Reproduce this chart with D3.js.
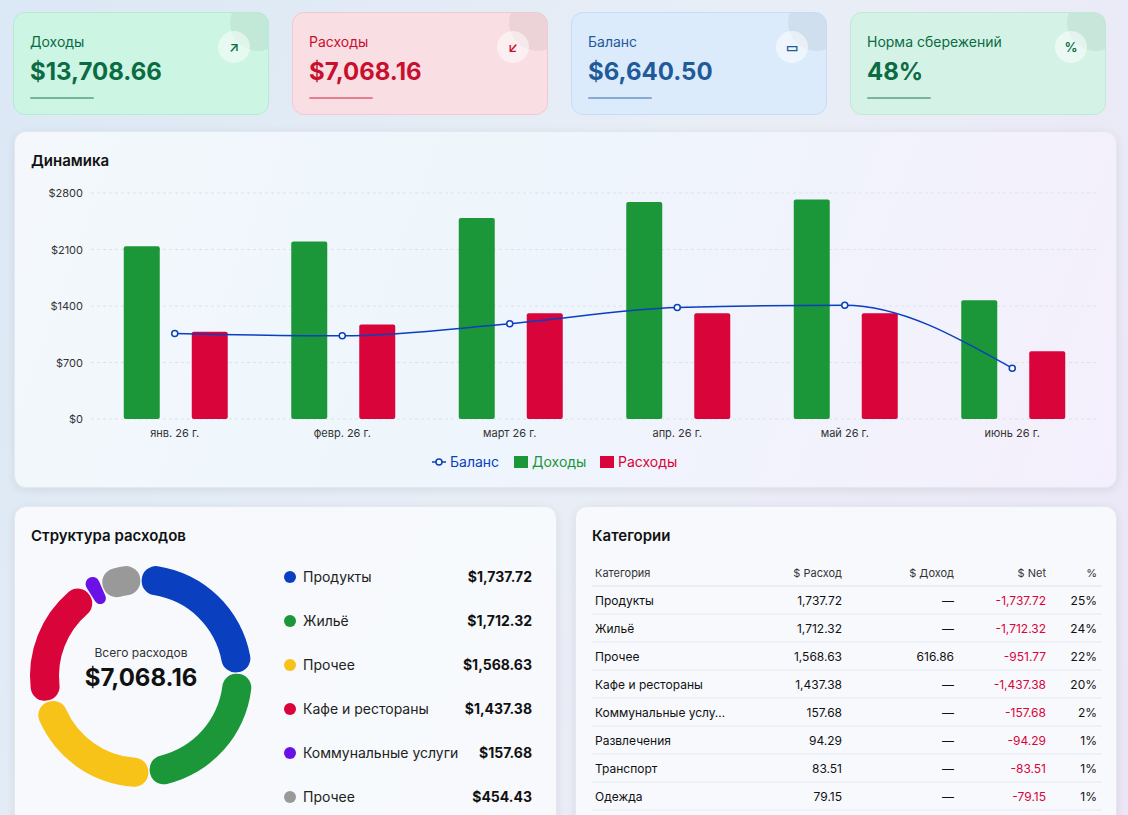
<!DOCTYPE html>
<html><head><meta charset="utf-8">
<script src="https://cdn.jsdelivr.net/npm/d3@7"></script>
<style>
body{margin:0;width:1128px;height:815px;overflow:hidden;font-family:Inter,"Noto Sans",sans-serif;
 background:linear-gradient(120deg,#dbe8f5 0%,#e9eef6 50%,#ece6f7 100%);}
.card{position:absolute;border-radius:12px;box-sizing:border-box;overflow:hidden}
.kpi{top:12px;height:103px;width:256px}
.kpi .t{position:absolute;left:16px;top:20px;font-size:14px}
.kpi .v{position:absolute;left:16px;top:44px;font-size:24px;font-weight:700}
.kpi .u{position:absolute;left:16px;top:84px;width:64px;height:2px;border-radius:1px}
.kpi .c{position:absolute;right:-18px;top:-18px;width:56px;height:56px;border-radius:50%;background:rgba(0,0,0,0.05)}
.kpi .i{position:absolute;right:18px;top:18px;width:32px;height:32px;border-radius:50%;background:rgba(255,255,255,0.5);text-align:center;line-height:32px;font-size:13px;font-weight:600}
.panel{background:rgba(248,250,253,0.95);box-shadow:0 2px 10px rgba(0,0,0,0.08);border:1px solid #e3e7ee}
.ptitle{position:absolute;left:16px;top:19px;font-size:15px;font-weight:600;color:#111}
</style></head><body>
<div id="root"></div>
<script>
var kpiTitles=["Доходы","Расходы","Баланс","Норма сбережений"];
var kpiValues=["$13,708.66","$7,068.16","$6,640.50","48%"];
var kpiIcons=["↗","↙","▭","%"];
var kpiBg=["#cdf5e3","#f9dfe4","#dcebfb","#d4f3e6"];
var kpiFg=["#0b6b43","#c8102e","#1f5a99","#0b6b43"];
var kpiBorder=["#b4ebd1","#f2c9d1","#c6dcf4","#bfe9d6"];

var months=["янв. 26 г.","февр. 26 г.","март 26 г.","апр. 26 г.","май 26 г.","июнь 26 г."];
var income=[2140,2200,2490,2690,2720,1470];
var expense=[1080,1170,1310,1310,1310,840];
var balance=[1060,1030,1180,1380,1410,630];
var yTicks=[0,700,1400,2100,2800];

var catNames=["Продукты","Жильё","Прочее","Кафе и рестораны","Коммунальные услуги","Прочее"];
var catValues=[1737.72,1712.32,1568.63,1437.38,157.68,454.43];
var catColors=["#0a3fbf","#1b9639","#f7c318","#d9043a","#6a12e6","#999999"];

var tblCats=["Продукты","Жильё","Прочее","Кафе и рестораны","Коммунальные услу…","Развлечения","Транспорт","Одежда"];
var tblExp=["1,737.72","1,712.32","1,568.63","1,437.38","157.68","94.29","83.51","79.15"];
var tblInc=["—","—","616.86","—","—","—","—","—"];
var tblNet=["-1,737.72","-1,712.32","-951.77","-1,437.38","-157.68","-94.29","-83.51","-79.15"];
var tblPct=["25%","24%","22%","20%","2%","1%","1%","1%"];

var root=d3.select("#root");
kpiTitles.forEach(function(t,i){
  var c=root.append("div").attr("class","card kpi")
    .style("left",(13+i*279)+"px").style("background",kpiBg[i]).style("border","1px solid "+kpiBorder[i]);
  c.append("div").attr("class","c");
  c.append("div").attr("class","t").style("color",kpiFg[i]).text(t);
  c.append("div").attr("class","v").style("color",kpiFg[i]).text(kpiValues[i]);
  c.append("div").attr("class","u").style("background",kpiFg[i]).style("opacity",0.45);
  c.append("div").attr("class","i").style("color",kpiFg[i]).text(kpiIcons[i]);
});

// Dynamics panel
var p1=root.append("div").attr("class","card panel").style("left","14px").style("top","131px")
  .style("width","1103px").style("height","357px")
  .style("background","linear-gradient(110deg,#f4f8fc,#eef6fc 40%,#f4effc)");
p1.append("div").attr("class","ptitle").text("Динамика");
var svg=p1.append("svg").attr("width",1103).attr("height",357).style("position","absolute").style("left",0).style("top",0);
var x=d3.scaleBand().domain(months).range([76,1081]);
var y=d3.scaleLinear().domain([0,2800]).range([287,61]);
var g=svg.append("g");
g.selectAll(".grid").data(yTicks).enter().append("line")
  .attr("x1",76).attr("x2",1081).attr("y1",d=>y(d)).attr("y2",d=>y(d))
  .attr("stroke","#dde2ea").attr("stroke-dasharray","3,3");
g.selectAll(".yl").data(yTicks).enter().append("text")
  .attr("x",68).attr("y",d=>y(d)+4).attr("text-anchor","end").attr("font-size",11).attr("fill","#333")
  .text(d=>"$"+d);
g.selectAll(".xl").data(months).enter().append("text")
  .attr("x",d=>x(d)+x.bandwidth()/2).attr("y",305).attr("text-anchor","middle").attr("font-size",11).attr("fill","#333")
  .text(d=>d);
var bw=36;
g.selectAll(".inc").data(income).enter().append("rect")
  .attr("x",(d,i)=>x(months[i])+x.bandwidth()/2-51-bw/2+18).attr("width",bw)
  .attr("y",d=>y(d)).attr("height",d=>y(0)-y(d)).attr("fill","#1b9639").attr("rx",2);
g.selectAll(".exp").data(expense).enter().append("rect")
  .attr("x",(d,i)=>x(months[i])+x.bandwidth()/2+17).attr("width",bw)
  .attr("y",d=>y(d)).attr("height",d=>y(0)-y(d)).attr("fill","#d9043a").attr("rx",2);
var line=d3.line().x((d,i)=>x(months[i])+x.bandwidth()/2).y(d=>y(d)).curve(d3.curveMonotoneX);
g.append("path").attr("d",line(balance)).attr("fill","none").attr("stroke","#0a3fbf").attr("stroke-width",1.5);
g.selectAll(".pt").data(balance).enter().append("circle")
  .attr("cx",(d,i)=>x(months[i])+x.bandwidth()/2).attr("cy",d=>y(d)).attr("r",3)
  .attr("fill","#fff").attr("stroke","#0a3fbf").attr("stroke-width",1.5);
// legend
var lg=svg.append("g").attr("transform","translate(417,330)");
lg.append("line").attr("x1",0).attr("x2",14).attr("stroke","#0a3fbf").attr("stroke-width",1.5);
lg.append("circle").attr("cx",7).attr("r",3).attr("fill","#fff").attr("stroke","#0a3fbf").attr("stroke-width",1.5);
lg.append("text").attr("x",18).attr("y",5).attr("font-size",14).attr("fill","#0a3fbf").text("Баланс");
lg.append("rect").attr("x",82).attr("y",-6).attr("width",14).attr("height",12).attr("fill","#1b9639");
lg.append("text").attr("x",100).attr("y",5).attr("font-size",14).attr("fill","#1b9639").text("Доходы");
lg.append("rect").attr("x",168).attr("y",-6).attr("width",14).attr("height",12).attr("fill","#d9043a");
lg.append("text").attr("x",186).attr("y",5).attr("font-size",14).attr("fill","#d9043a").text("Расходы");

// Structure panel
var p2=root.append("div").attr("class","card panel").style("left","14px").style("top","506px")
  .style("width","543px").style("height","340px");
p2.append("div").attr("class","ptitle").text("Структура расходов");
var s2=p2.append("svg").attr("width",543).attr("height",340).style("position","absolute").style("left",0).style("top",0);
var pie=d3.pie().sort(null).padAngle(0.01)(catValues);
var arc=d3.arc().innerRadius(82).outerRadius(111).cornerRadius(14);
var dg=s2.append("g").attr("transform","translate(126,169)");
dg.selectAll("path").data(pie).enter().append("path").attr("d",arc).attr("fill",(d,i)=>catColors[i]);
dg.append("text").attr("y",-19).attr("text-anchor","middle").attr("font-size",12).attr("fill","#333").text("Всего расходов");
dg.append("text").attr("y",10).attr("text-anchor","middle").attr("font-size",24).attr("font-weight",700).attr("fill","#111")
  .text("$"+d3.format(",.2f")(d3.sum(catValues.slice(0,5))+ (7068.16-d3.sum(catValues.slice(0,5)))));
var li=s2.selectAll(".li").data(catNames).enter().append("g")
  .attr("transform",(d,i)=>"translate(0,"+(70+i*44)+")");
li.append("circle").attr("cx",275).attr("r",6).attr("fill",(d,i)=>catColors[i]);
li.append("text").attr("x",288).attr("y",5).attr("font-size",14).attr("fill","#222").text(d=>d);
li.append("text").attr("x",517).attr("y",5).attr("text-anchor","end").attr("font-size",14).attr("font-weight",700).attr("fill","#111")
  .text((d,i)=>"$"+d3.format(",.2f")(catValues[i]));

// Categories table
var p3=root.append("div").attr("class","card panel").style("left","575px").style("top","506px")
  .style("width","542px").style("height","340px");
p3.append("div").attr("class","ptitle").text("Категории");
var s3=p3.append("svg").attr("width",542).attr("height",340).style("position","absolute").style("left",0).style("top",0);
var cols=[{x:19,a:"start"},{x:266,a:"end"},{x:378,a:"end"},{x:470,a:"end"},{x:521,a:"end"}];
var heads=["Категория","$ Расход","$ Доход","$ Net","%"];
heads.forEach(function(h,j){
  s3.append("text").attr("x",cols[j].x).attr("y",70).attr("text-anchor",cols[j].a).attr("font-size",11).attr("fill","#333").text(h);
});
s3.append("line").attr("x1",16).attr("x2",526).attr("y1",79).attr("y2",79).attr("stroke","#dde2ea");
tblCats.forEach(function(c,i){
  var yy=98+i*28;
  var vals=[c,tblExp[i],tblInc[i],tblNet[i],tblPct[i]];
  vals.forEach(function(v,j){
    s3.append("text").attr("x",cols[j].x).attr("y",yy).attr("text-anchor",cols[j].a).attr("font-size",12)
      .attr("fill",j==3?"#d9043a":"#111").text(v);
  });
  s3.append("line").attr("x1",16).attr("x2",526).attr("y1",yy+9).attr("y2",yy+9).attr("stroke","#e6e9ef");
});
</script></body></html>
